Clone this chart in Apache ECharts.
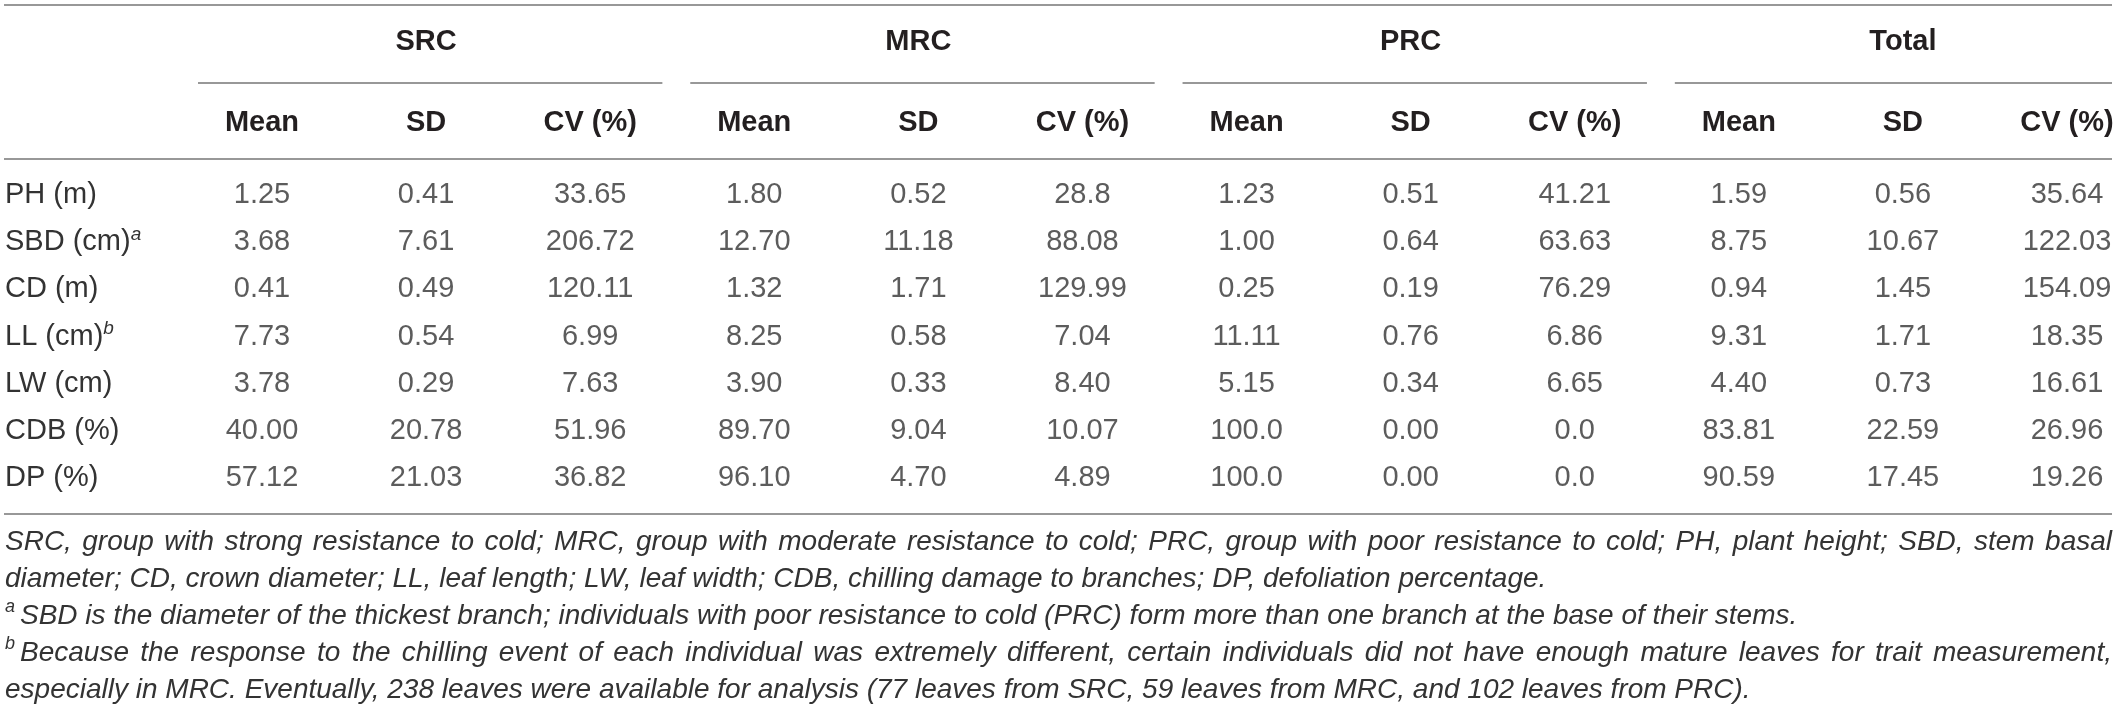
<!DOCTYPE html>
<html>
<head>
<meta charset="utf-8">
<script src="https://cdn.jsdelivr.net/npm/echarts@6/dist/echarts.min.js"></script>
<style>
  html, body { margin: 0; padding: 0; background: #fff; }
  #main { width: 2118px; height: 711px; }
</style>
</head>
<body>
<div id="main"></div>
<script>
const groups = ['SRC', 'MRC', 'PRC', 'Total'];
const stats = ['Mean', 'SD', 'CV (%)'];
const traits = ['PH (m)', 'SBD (cm)', 'CD (m)', 'LL (cm)', 'LW (cm)', 'CDB (%)', 'DP (%)'];
const traitNotes = ['', 'a', '', 'b', '', '', ''];

const srcMean = ['1.25', '3.68', '0.41', '7.73', '3.78', '40.00', '57.12'];
const srcSD = ['0.41', '7.61', '0.49', '0.54', '0.29', '20.78', '21.03'];
const srcCV = ['33.65', '206.72', '120.11', '6.99', '7.63', '51.96', '36.82'];
const mrcMean = ['1.80', '12.70', '1.32', '8.25', '3.90', '89.70', '96.10'];
const mrcSD = ['0.52', '11.18', '1.71', '0.58', '0.33', '9.04', '4.70'];
const mrcCV = ['28.8', '88.08', '129.99', '7.04', '8.40', '10.07', '4.89'];
const prcMean = ['1.23', '1.00', '0.25', '11.11', '5.15', '100.0', '100.0'];
const prcSD = ['0.51', '0.64', '0.19', '0.76', '0.34', '0.00', '0.00'];
const prcCV = ['41.21', '63.63', '76.29', '6.86', '6.65', '0.0', '0.0'];
const totMean = ['1.59', '8.75', '0.94', '9.31', '4.40', '83.81', '90.59'];
const totSD = ['0.56', '10.67', '1.45', '1.71', '0.73', '22.59', '17.45'];
const totCV = ['35.64', '122.03', '154.09', '18.35', '16.61', '26.96', '19.26'];

const noteLines = [
    'SRC, group with strong resistance to cold; MRC, group with moderate resistance to cold; PRC, group with poor resistance to cold; PH, plant height; SBD, stem basal',
    'diameter; CD, crown diameter; LL, leaf length; LW, leaf width; CDB, chilling damage to branches; DP, defoliation percentage.',
    'SBD is the diameter of the thickest branch; individuals with poor resistance to cold (PRC) form more than one branch at the base of their stems.',
    'Because the response to the chilling event of each individual was extremely different, certain individuals did not have enough mature leaves for trait measurement,',
    'especially in MRC. Eventually, 238 leaves were available for analysis (77 leaves from SRC, 59 leaves from MRC, and 102 leaves from PRC).'
];
const noteSups = ['', '', 'a', 'b', ''];
const noteJustify = [true, false, false, true, false];

const columns = [srcMean, srcSD, srcCV, mrcMean, mrcSD, mrcCV, prcMean, prcSD, prcCV, totMean, totSD, totCV];

const FONT = '"Liberation Sans", Arial, Helvetica, sans-serif';
const INK = '#333333';
const HEAD = '#231f20';
const RULE = '#767676';

const colKeys = [];
groups.forEach(g => stats.forEach(s => colKeys.push(g + '|' + s)));

const cells = [];
columns.forEach((col, c) => {
    col.forEach((v, r) => cells.push({value: [c, r], name: v}));
});

const chart = echarts.init(document.getElementById('main'));

const hidden = {
    axisLine: {show: false},
    axisTick: {show: false},
    splitLine: {show: false}
};

chart.setOption({
    animation: false,
    backgroundColor: '#fff',
    grid: [
        {left: 262, right: 51, top: 195, bottom: 233, outerBoundsMode: 'none'},
        {left: 262, right: 51, top: 42, height: 10, outerBoundsMode: 'none'}
    ],
    xAxis: [
        Object.assign({
            type: 'category',
            gridIndex: 0,
            position: 'top',
            data: colKeys,
            boundaryGap: false,
            axisLabel: {
                interval: 0,
                margin: 72,
                verticalAlign: 'middle',
                formatter: v => v.split('|')[1],
                fontFamily: FONT,
                fontSize: 29,
                fontWeight: 'bold',
                color: HEAD
            }
        }, hidden),
        Object.assign({
            type: 'category',
            gridIndex: 1,
            position: 'top',
            data: colKeys,
            boundaryGap: false,
            axisLabel: {
                interval: 0,
                margin: 0,
                verticalAlign: 'middle',
                formatter: v => v.split('|')[1] === 'SD' ? v.split('|')[0] : '',
                fontFamily: FONT,
                fontSize: 29,
                fontWeight: 'bold',
                color: HEAD
            }
        }, hidden)
    ],
    yAxis: [
        Object.assign({
            type: 'category',
            gridIndex: 0,
            inverse: true,
            boundaryGap: false,
            data: traits,
            axisLabel: {
                interval: 0,
                align: 'left',
                margin: 257,
                formatter: (v, i) => traitNotes[i] ? '{n|' + v + '}{s|' + traitNotes[i] + '}' : '{n|' + v + '}',
                rich: {
                    n: {fontFamily: FONT, fontSize: 29, color: INK, lineHeight: 34},
                    s: {fontFamily: FONT, fontSize: 19, fontStyle: 'italic', color: INK, lineHeight: 20, verticalAlign: 'top'}
                }
            }
        }, hidden),
        {type: 'value', gridIndex: 1, show: false}
    ],
    series: [{
        type: 'scatter',
        xAxisIndex: 0,
        yAxisIndex: 0,
        data: cells,
        symbolSize: 1,
        silent: true,
        itemStyle: {color: 'transparent'},
        label: {
            show: true,
            position: 'inside',
            formatter: '{b}',
            fontFamily: FONT,
            fontSize: 29,
            color: INK
        }
    }]
});

// rules and footnotes
const px = i => chart.convertToPixel({xAxisIndex: 0}, i);
const band = px(1) - px(0);
const rightEdge = 2112;
const elements = [];

function rule(y, x1, x2) {
    elements.push({
        type: 'line', silent: true,
        shape: {x1: x1, y1: y, x2: x2, y2: y},
        style: {stroke: RULE, lineWidth: 1.6}
    });
}

rule(5, 4, rightEdge);
rule(159, 4, rightEdge);
rule(514, 4, rightEdge);
groups.forEach((g, k) => {
    const x1 = px(k * 3) - 0.39 * band;
    const x2 = Math.min(px(k * 3 + 2) + 0.44 * band, rightEdge);
    rule(83, x1, x2);
});

const noteSize = 28;
const ctx = document.createElement('canvas').getContext('2d');
ctx.font = 'italic ' + noteSize + 'px ' + FONT;
const spaceW = ctx.measureText(' ').width;

noteLines.forEach((line, i) => {
    const y = 542 + i * 37;
    let x = 5;
    if (noteSups[i]) {
        elements.push({
            type: 'text', silent: true, x: x, y: y - 9,
            style: {text: noteSups[i], fontFamily: FONT, fontSize: 18, fontStyle: 'italic', fill: INK, verticalAlign: 'middle'}
        });
        x += 15;
    }
    const words = line.split(' ');
    const widths = words.map(w => ctx.measureText(w).width);
    let gap = spaceW;
    if (noteJustify[i]) {
        const total = widths.reduce((a, b) => a + b, 0);
        gap = Math.max(spaceW * 0.6, (rightEdge - x - total) / (words.length - 1));
    }
    words.forEach((w, j) => {
        elements.push({
            type: 'text', silent: true, x: x, y: y,
            style: {text: w, fontFamily: FONT, fontSize: noteSize, fontStyle: 'italic', fill: INK, verticalAlign: 'middle'}
        });
        x += widths[j] + gap;
    });
});

chart.setOption({graphic: elements});
</script>
</body>
</html>
